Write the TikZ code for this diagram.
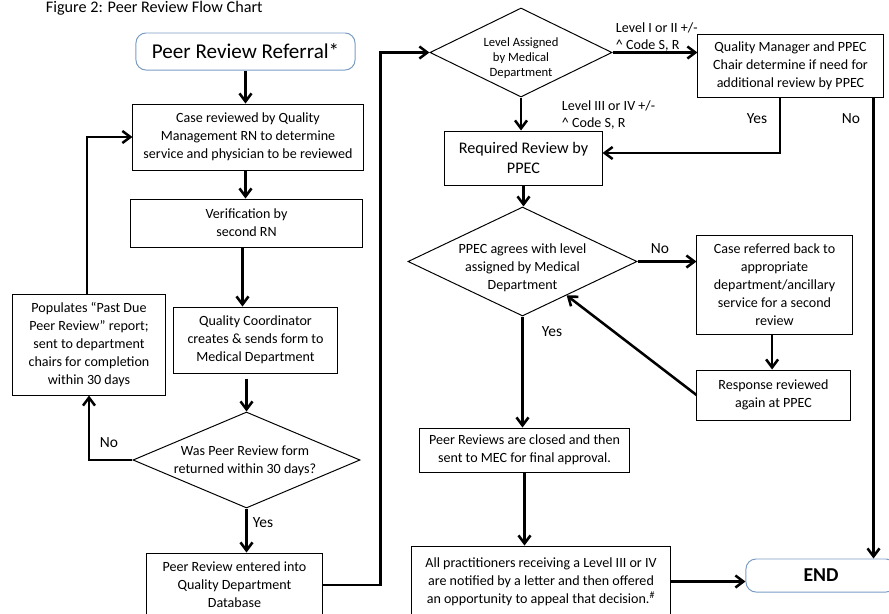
\documentclass[tikz,border=0pt]{standalone}
\usepackage{fontspec}
\setmainfont{Carlito}
\usetikzlibrary{shapes.geometric,arrows.meta}
\definecolor{birumuda}{RGB}{122,156,196}
\begin{document}
\begin{tikzpicture}[x=0.025cm, y=-0.025cm,
      kotak/.style={draw, line width=0.7pt, align=center, inner sep=2pt, font=\fontsize{10}{12.8}\selectfont},
      bulat/.style={kotak, draw=birumuda, rounded corners=2.5mm},
      belah/.style={draw, diamond, line width=0.7pt, inner sep=0pt},
      isi/.style={align=center, font=\fontsize{10}{12.8}\selectfont},
      ket/.style={font=\fontsize{11}{13}\selectfont},
      kode/.style={anchor=west, align=left, font=\fontsize{10}{12.2}\selectfont},
      panah/.style={line width=1.8pt, -{Straight Barb[length=2mm, width=3mm]}}]
    \useasboundingbox (0,0) rectangle (889,613);
    \node[anchor=west, font=\fontsize{11.5}{14}\selectfont] (judul) at (41,8) {Figure 2: Peer Review Flow Chart};
    \node[bulat, minimum width=5.475cm, minimum height=0.925cm, font=\fontsize{15}{18}\selectfont] (rujukan) at (245.5,51.5) {Peer Review Referral*};
    \node[kotak, minimum width=5.75cm, minimum height=1.65cm] (telaah) at (248,137) {Case reviewed by Quality\\Management RN to determine\\service and physician to be reviewed};
    \node[kotak, minimum width=5.775cm, minimum height=1.2cm] (verifikasi) at (246.5,223) {Verification by\\second RN};
    \node[kotak, minimum width=4.075cm, minimum height=1.65cm] (koordinator) at (255.5,340) {Quality Coordinator\\creates \& sends form to\\Medical Department};
    \node[belah, minimum width=5.675cm, minimum height=2.4cm] (kembali) at (246.5,460) {};
    \node[isi] (kembali-isi) at (245,460.5) {Was Peer Review form\\returned within 30 days?};
    \node[kotak, minimum width=3.8cm, minimum height=2.525cm] (lewat) at (89,344.5) {Populates “Past Due\\Peer Review” report;\\sent to department\\chairs for completion\\within 30 days};
    \node[kotak, minimum width=4.375cm, minimum height=1.6cm] (basisdata) at (234.5,585) {Peer Review entered into\\Quality Department\\Database};
    \node[belah, minimum width=4.55cm, minimum height=2.225cm] (tingkat) at (521,52.5) {};
    \node[isi, font=\fontsize{9}{10.7}\selectfont] (tingkat-isi) at (521,58) {Level Assigned\\by Medical\\Department};
    \node[kotak, minimum width=4.625cm, minimum height=1.575cm] (manajer) at (790.5,65.5) {Quality Manager and PPEC\\Chair determine if need for\\additional review by PPEC};
    \node[kotak, minimum width=3.925cm, minimum height=1.35cm, font=\fontsize{11.5}{14.2}\selectfont] (wajib) at (523.5,158) {Required Review by\\PPEC};
    \node[belah, minimum width=5.725cm, minimum height=2.725cm] (setuju) at (522.5,261.5) {};
    \node[isi] (setuju-isi) at (522.5,268) {PPEC agrees with level\\assigned by Medical\\Department};
    \node[kotak, minimum width=3.875cm, minimum height=2.475cm] (rujukbalik) at (774.5,284.5) {Case referred back to\\appropriate\\department/ancillary\\service for a second\\review};
    \node[kotak, minimum width=3.825cm, minimum height=1.25cm] (tanggapan) at (773.5,395) {Response reviewed\\again at PPEC};
    \node[kotak, minimum width=5.225cm, minimum height=1.1cm] (tutup) at (524.5,450) {Peer Reviews are closed and then\\sent to MEC for final approval.};
    \node[kotak, minimum width=6.45cm, minimum height=1.775cm] (notifikasi) at (541,581.5) {All practitioners receiving a Level III or IV\\are notified by a letter and then offered\\an opportunity to appeal that decision.\textsuperscript{\#}};
    \node[bulat, minimum width=3.75cm, minimum height=0.825cm, font=\fontsize{14}{16}\selectfont\bfseries] (selesai) at (821,575.5) {END};
    \draw[panah] (rujukan.south) -- (rujukan.south |- telaah.north);
    \draw[panah] (telaah.south -| rujukan.south) -- (rujukan.south |- verifikasi.north);
    \draw[panah] ([xshift=-0.1cm]verifikasi.south) -- ([xshift=-0.1cm]verifikasi.south |- koordinator.north);
    \draw[panah] ([yshift=-0.125cm]koordinator.south -| kembali.north) -- (kembali.north);
    \draw[panah] (kembali.west) -| (lewat.south);
    \node[ket] (kembali-tidak) at (109,443) {No};
    \draw[panah] ([xshift=-0.05cm]lewat.north) |- (telaah.west);
    \draw[panah] (kembali.south) -- (kembali.south |- basisdata.north);
    \node[ket] (kembali-ya) at (263,523) {Yes};
    \draw[panah] (basisdata.east) -- ++(58,0) |- (tingkat.west);
    \draw[panah] (tingkat.east) -- (tingkat.east -| manajer.west);
    \node[kode] (kode-rendah) at (611,37) {Level I or II +/-\\\textasciicircum{} Code S, R};
    \draw[panah] (tingkat.south) -- (tingkat.south |- wajib.north);
    \node[kode] (kode-tinggi) at (557,115) {Level III or IV +/-\\\textasciicircum{} Code S, R};
    \draw[panah] ([xshift=-0.26cm]manajer.south) |- ([yshift=0.125cm]wajib.east);
    \node[ket] (manajer-ya) at (757,119) {Yes};
    \draw[panah] ([xshift=-0.25cm]manajer.south east) -- ([xshift=-0.25cm]manajer.south east |- selesai.north);
    \node[ket] (manajer-tidak) at (851,119) {No};
    \draw[panah] (wajib.south) -- (wajib.south |- setuju.north);
    \draw[panah] (setuju.east) -- (setuju.east -| rujukbalik.west);
    \node[ket] (setuju-tidak) at (660,249) {No};
    \draw[panah] ([xshift=-0.06cm]rujukbalik.south) -- ([xshift=-0.06cm]rujukbalik.south |- tanggapan.north);
    \draw[panah] (tanggapan.west) -- (setuju);
    \draw[panah] (setuju.south) -- (setuju.south |- tutup.north);
    \node[ket] (setuju-ya) at (552,332) {Yes};
    \draw[panah] (tutup.south) -- (tutup.south |- notifikasi.north);
    \draw[panah] (notifikasi.east) -- (notifikasi.east -| selesai.west);
  \end{tikzpicture}
\end{document}
